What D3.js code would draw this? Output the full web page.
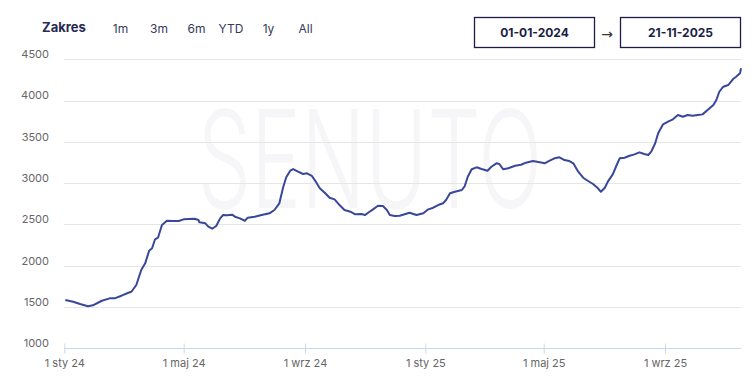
<!DOCTYPE html>
<html>
<head>
<meta charset="utf-8">
<script src="https://cdn.jsdelivr.net/npm/d3@7"></script>
<style>
  html, body { margin: 0; padding: 0; background: #fff; }
  svg { display: block; }
</style>
</head>
<body>
<svg id="chart" width="756" height="379"></svg>
<script>
const dates = [
  "2024-01-02","2024-01-10","2024-01-17","2024-01-25","2024-01-30","2024-02-08","2024-02-16","2024-02-21","2024-02-28","2024-03-06",
  "2024-03-09","2024-03-14","2024-03-19","2024-03-23","2024-03-27","2024-03-30","2024-04-02","2024-04-05","2024-04-09","2024-04-14",
  "2024-04-20","2024-04-26","2024-05-01","2024-05-06","2024-05-12","2024-05-16","2024-05-17","2024-05-23","2024-05-26","2024-05-30",
  "2024-06-03","2024-06-07","2024-06-10","2024-06-14","2024-06-19","2024-06-22",
  "2024-06-27","2024-07-02","2024-07-05","2024-07-12","2024-07-19","2024-07-27","2024-08-01","2024-08-06","2024-08-10","2024-08-13",
  "2024-08-17","2024-08-20","2024-08-25","2024-08-30","2024-09-03","2024-09-08","2024-09-12","2024-09-16","2024-09-21","2024-09-26",
  "2024-10-01","2024-10-06","2024-10-11","2024-10-17","2024-10-22","2024-10-28","2024-11-01","2024-11-04","2024-11-09","2024-11-14",
  "2024-11-19","2024-11-23","2024-11-26","2024-12-01",
  "2024-12-06","2024-12-16","2024-12-23","2024-12-30","2025-01-04","2025-01-09","2025-01-14","2025-01-19","2025-01-22","2025-01-26",
  "2025-01-31","2025-02-07","2025-02-10","2025-02-13","2025-02-17","2025-02-22","2025-02-27","2025-03-05","2025-03-09","2025-03-14",
  "2025-03-17","2025-03-21","2025-03-26","2025-04-02","2025-04-08","2025-04-13","2025-04-20","2025-04-27","2025-05-02","2025-05-07",
  "2025-05-12","2025-05-17","2025-05-22","2025-05-27",
  "2025-05-31","2025-06-05","2025-06-10","2025-06-15","2025-06-20","2025-06-25","2025-06-28","2025-07-02","2025-07-05","2025-07-10",
  "2025-07-14","2025-07-17","2025-07-22","2025-07-27","2025-08-01","2025-08-06","2025-08-11","2025-08-15","2025-08-18","2025-08-22",
  "2025-08-25","2025-08-30","2025-09-04","2025-09-09","2025-09-14","2025-09-19","2025-09-24","2025-09-29","2025-10-04","2025-10-09",
  "2025-10-15","2025-10-20","2025-10-23","2025-10-26","2025-10-30","2025-11-04","2025-11-09","2025-11-12","2025-11-16","2025-11-17"
];
const values = [
  1585,1564,1536,1509,1521,1576,1605,1605,1637,1673,
  1685,1767,1948,2029,2182,2211,2320,2339,2493,2545,
  2541,2541,2562,2566,2569,2554,2526,2514,2473,2448,
  2481,2574,2614,2610,2618,2594,
  2574,2545,2582,2594,2614,2635,2675,2756,2957,3071,
  3151,3171,3139,3111,3119,3087,3018,2938,2884,2824,
  2804,2735,2675,2654,2623,2626,2614,2642,2683,2727,
  2723,2675,2614,2602,
  2606,2642,2614,2635,2683,2703,2735,2756,2796,2877,
  2896,2917,2965,3078,3168,3192,3171,3151,3199,3240,
  3232,3168,3180,3211,3223,3248,3268,3252,3240,3272,
  3301,3313,3280,3268,
  3240,3139,3066,3026,2990,2938,2896,2945,3018,3107,
  3220,3301,3308,3332,3349,3373,3353,3341,3381,3483,
  3604,3713,3744,3773,3825,3805,3825,3817,3825,3833,
  3894,3946,4007,4107,4168,4188,4261,4289,4330,4391
];
const yTicks = [1000,1500,2000,2500,3000,3500,4000,4500];
const xTickDates = ["2024-01-01","2024-05-01","2024-09-01","2025-01-01","2025-05-01","2025-09-01"];
const xTickLabels = ["1 sty 24","1 maj 24","1 wrz 24","1 sty 25","1 maj 25","1 wrz 25"];
const rangeButtons = ["1m","3m","6m","YTD","1y","All"];
const rangeFrom = "01-01-2024";
const rangeTo = "21-11-2025";

const parse = d3.utcParse("%Y-%m-%d");
const data = dates.map((d, i) => ({ date: parse(d), value: values[i] }));

const svg = d3.select("#chart");
const FONT = "Inter, 'Open Sans', sans-serif";

const x = d3.scaleUtc()
  .domain([parse("2024-01-01"), parse("2025-11-17")])
  .range([64.3, 741]);
const y = d3.scaleLinear().domain([1000, 4500]).range([348.3, 59.3]);

// watermark
svg.append("text")
  .attr("transform", "translate(370,208) scale(0.62,1)")
  .attr("text-anchor", "middle")
  .attr("font-family", FONT)
  .attr("font-size", 136)
  .attr("font-weight", 300)
  .attr("fill", "#f6f6f8")
  .text("SENUTO");

// gridlines
svg.append("g")
  .selectAll("line")
  .data(yTicks.filter(t => t !== 1000))
  .join("line")
  .attr("x1", 64).attr("x2", 741)
  .attr("y1", d => Math.round(y(d)) + 0.5)
  .attr("y2", d => Math.round(y(d)) + 0.5)
  .attr("stroke", "#e6e6e6").attr("stroke-width", 1);

// y labels
svg.append("g")
  .selectAll("text")
  .data(yTicks)
  .join("text")
  .attr("x", 49).attr("y", d => y(d) - 5)
  .attr("dy", "0.35em")
  .attr("text-anchor", "end")
  .attr("font-family", FONT)
  .attr("font-size", 11)
  .attr("fill", "#666")
  .text(d => d);

// x axis
const xAxis = d3.axisBottom(x)
  .tickValues(xTickDates.map(parse))
  .tickFormat((d, i) => xTickLabels[i])
  .tickSize(8)
  .tickSizeOuter(0);
const gx = svg.append("g")
  .attr("transform", "translate(0,348.5)")
  .call(xAxis);
gx.select(".domain").attr("stroke", "#ccd6eb").attr("d", "M64,0H741");
gx.selectAll(".tick line").attr("stroke", "#ccd6eb").attr("y1", -5).attr("y2", 5);
gx.selectAll(".tick text")
  .attr("y", 11)
  .attr("font-family", FONT)
  .attr("font-size", 11)
  .attr("fill", "#666");

// line
const line = d3.line()
  .x(d => x(d.date))
  .y(d => y(d.value))
  .curve(d3.curveLinear);
svg.append("path")
  .datum(data)
  .attr("d", line)
  .attr("fill", "none")
  .attr("stroke", "#39479a")
  .attr("stroke-width", 2)
  .attr("stroke-linejoin", "round");

// header
svg.append("text")
  .attr("x", 42).attr("y", 27).attr("dy", "0.35em")
  .attr("font-family", FONT).attr("font-size", 13).attr("font-weight", 700)
  .attr("fill", "#262a52")
  .text("Zakres");

const btnX = [120.5, 159, 196.5, 231, 268.5, 305.5];
svg.append("g")
  .selectAll("text")
  .data(rangeButtons)
  .join("text")
  .attr("x", (d, i) => btnX[i]).attr("y", 29).attr("dy", "0.35em")
  .attr("text-anchor", "middle")
  .attr("font-family", FONT).attr("font-size", 12)
  .attr("fill", "#333a5a")
  .text(d => d);

const boxes = [{ x: 474.5, t: rangeFrom }, { x: 620.5, t: rangeTo }];
const bg = svg.append("g");
boxes.forEach(b => {
  bg.append("rect")
    .attr("x", b.x).attr("y", 17.5).attr("width", 120).attr("height", 30)
    .attr("fill", "#fff").attr("stroke", "#1c1d45").attr("stroke-width", 1.3);
  bg.append("text")
    .attr("x", b.x + 60).attr("y", 33).attr("dy", "0.35em")
    .attr("text-anchor", "middle")
    .attr("font-family", FONT).attr("font-size", 12).attr("font-weight", 700)
    .attr("fill", "#1c1d45")
    .text(b.t);
});
svg.append("text")
  .attr("x", 607).attr("y", 34).attr("dy", "0.35em")
  .attr("text-anchor", "middle")
  .attr("font-family", "'DejaVu Sans', sans-serif").attr("font-size", 14)
  .attr("fill", "#333")
  .text("→");
</script>
</body>
</html>
